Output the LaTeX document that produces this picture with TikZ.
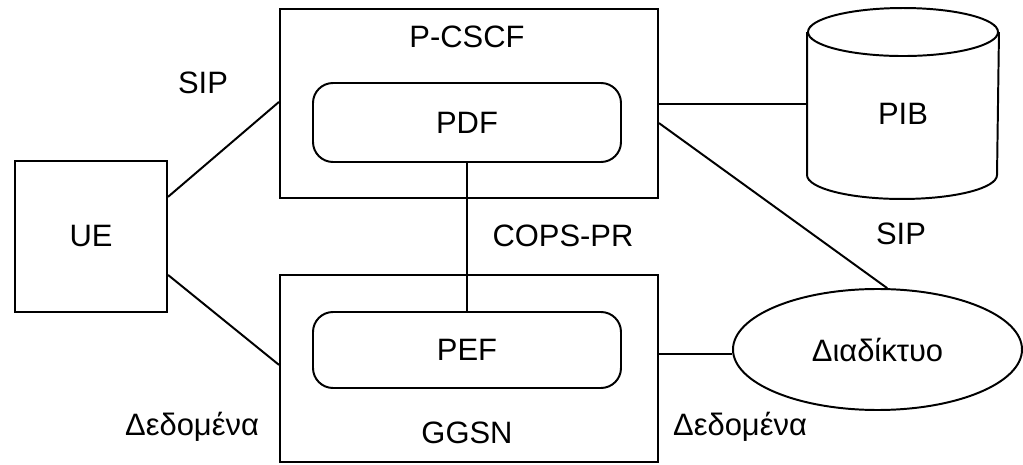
\documentclass[tikz,border=0pt]{standalone}
\usepackage{fontspec}
\setmainfont{Liberation Sans}
\usetikzlibrary{shapes.geometric}

\tikzset{
  box/.style={draw, minimum width=#1},
  inner box/.style={draw, rounded corners=0.5cm, minimum width=7.7cm},
  lbl/.style={anchor=base}
}

\begin{document}
\begin{tikzpicture}[line width=1.4pt, font=\fontsize{22}{26}\selectfont]
    \useasboundingbox (0,0) rectangle (25.575,11.6);

    % Nodes
    \node[box=3.8cm, minimum height=3.775cm] (ue) at (2.275,5.6875) {UE};
    \node[box=9.45cm, minimum height=4.725cm] (pcscf) at (11.725,9.0125) {};
    \node[box=9.45cm, minimum height=4.675cm] (ggsn) at (11.725,2.3875) {};
    \node[inner box, minimum height=1.975cm] (pdf) at (11.675,8.5375) {PDF};
    \node[inner box, minimum height=1.9cm] (pef) at (11.675,2.85) {PEF};
    \node[minimum width=4.75cm, minimum height=4.725cm] (pib) at (22.575,9.0125) {};
    \node[draw, ellipse, inner sep=0pt, minimum width=7.225cm, minimum height=3.025cm]
      (net) at (21.9375,2.8625) {Διαδίκτυο};

    % Cylinder
    \draw ([yshift=-0.6cm]pib.north) ellipse (2.375cm and 0.6cm);
    \draw ([yshift=-0.6cm]pib.north west) -- ([yshift=0.6cm]pib.south west)
      arc (180:360:2.375cm and 0.6cm) -- ([yshift=-0.6cm]pib.north east);
    \node (pibtext) at ([yshift=-0.25cm]pib.center) {PIB};

    % Box titles
    \node[lbl] (pcscftext) at (11.675,10.4) {P-CSCF};
    \node[lbl] (ggsntext) at (11.675,0.525) {GGSN};

    % Link ends
    \coordinate (pcscfout) at ([yshift=-0.0125cm]pcscf.east);
    \coordinate (ggsnout) at ([yshift=0.3625cm]ggsn.east);

    % Links
    \draw ([yshift=0.99cm]ue.east) -- ([yshift=0.04cm]pcscf.west);
    \draw ([yshift=-0.96cm]ue.east) -- ([yshift=0.09cm]ggsn.west);
    \draw (pdf.south) -- (pef.north);
    \draw (pcscfout) -- (pcscfout -| pib.west);
    \draw ([yshift=-0.49cm]pcscf.east) -- (net.81);
    \draw (ggsnout) -- (ggsnout -| net.west);

    % Link labels
    \node[lbl] (sip1) at (5.075,9.25) {SIP};
    \node[lbl] (cops) at (14.075,5.425) {COPS-PR};
    \node[lbl] (sip2) at (22.525,5.475) {SIP};
    \node[lbl] (data1) at (4.8,0.725) {Δεδομένα};
    \node[lbl] (data2) at (18.5,0.725) {Δεδομένα};
\end{tikzpicture}
\end{document}
